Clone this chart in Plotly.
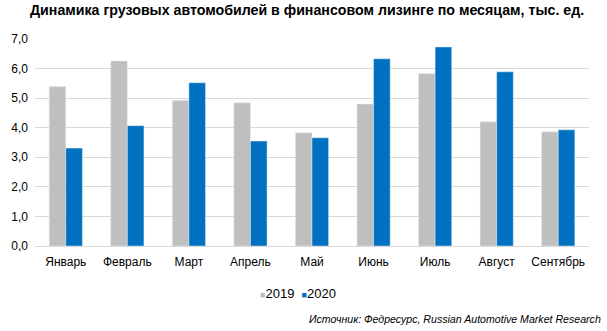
import plotly.graph_objects as go

months = ["Январь", "Февраль", "Март", "Апрель", "Май", "Июнь", "Июль", "Август", "Сентябрь"]
v2019 = [5.39, 6.26, 4.93, 4.84, 3.83, 4.80, 5.83, 4.20, 3.86]
v2020 = [3.31, 4.07, 5.52, 3.55, 3.66, 6.33, 6.73, 5.89, 3.93]
series_names = ["2019", "2020"]
series_colors = ["#BFBFBF", "#0070C0"]
yticks = [0, 1, 2, 3, 4, 5, 6, 7]

font = "Liberation Sans, Arial, sans-serif"

fig = go.Figure()
for name, vals, col in zip(series_names, [v2019, v2020], series_colors):
    fig.add_trace(go.Bar(name=name, x=months, y=vals, marker_color=col))

fig.update_layout(
    width=607, height=331,
    margin=dict(l=35, r=18, t=39, b=85),
    paper_bgcolor="white", plot_bgcolor="white",
    barmode="group", bargap=0.46, bargroupgap=0,
    separators=", ",
    font=dict(family=font, size=12, color="#000000"),
    title=dict(text="<b>Динамика грузовых автомобилей в финансовом лизинге по месяцам, тыс. ед.</b>",
               x=30 / 607, xref="container", xanchor="left", y=0.985, yanchor="top",
               font=dict(family=font, size=14.2, color="#000000")),
    showlegend=False,
)
fig.update_xaxes(showgrid=False, showline=True, linecolor="#D9D9D9", linewidth=1,
                 ticks="", tickfont=dict(size=12, color="#000000"), ticklabelstandoff=5)
fig.update_yaxes(range=[0, 7], tickvals=yticks, tickformat=".1f", showgrid=True,
                 gridcolor="#D9D9D9", gridwidth=1, zeroline=False, ticks="",
                 tickfont=dict(size=12, color="#000000"), ticklabelstandoff=6)

legend_text = "&nbsp;&nbsp;".join(
    f"<span style='color:{c}; font-size:9px'>■</span>{n}" for n, c in zip(series_names, series_colors)
)
fig.add_annotation(text=legend_text, xref="paper", yref="paper",
                   x=(298 - 35) / 554, y=-(293 - 246) / 207, xanchor="center", yanchor="middle",
                   showarrow=False, font=dict(family=font, size=13, color="#000000"))
fig.add_annotation(text="<i>Источник: Федресурс, Russian Automotive Market Research</i>",
                   xref="paper", yref="paper", x=(603 - 35) / 554, y=-(319 - 246) / 207,
                   xanchor="right", yanchor="middle", showarrow=False,
                   font=dict(family=font, size=10.6, color="#000000"))

fig.write_html("out.html")
